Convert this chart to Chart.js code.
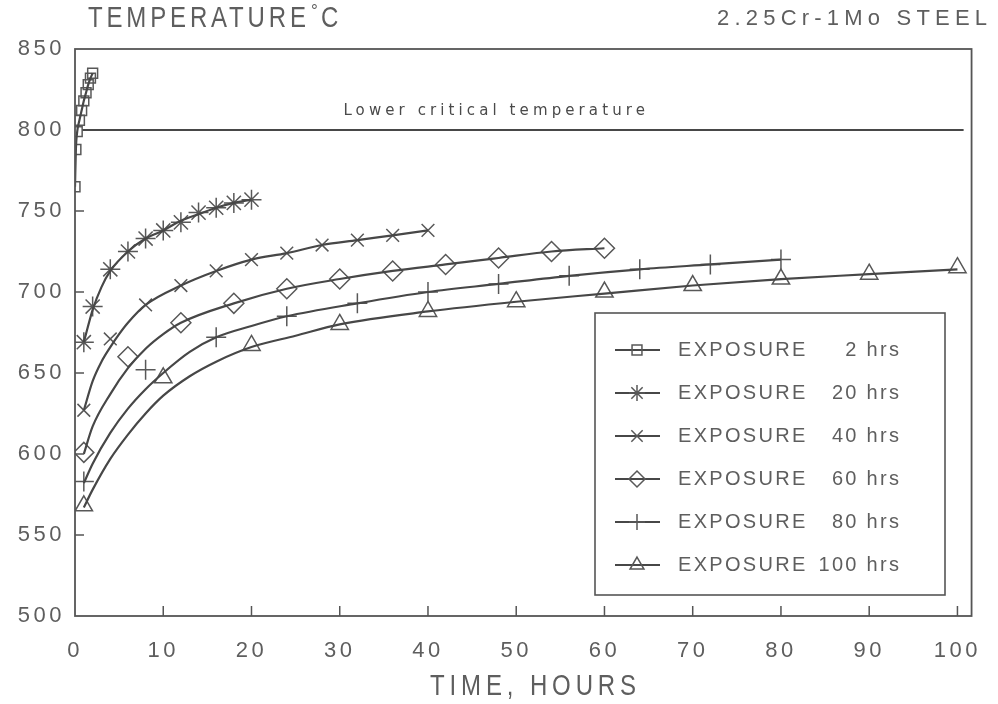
<!DOCTYPE html>
<html><head><meta charset="utf-8">
<script src="https://cdn.jsdelivr.net/npm/chart.js@4/dist/chart.umd.min.js"></script>
<style>html,body{margin:0;padding:0;background:#fff;}canvas{display:block;}</style>
</head><body>
<canvas id="c" width="998" height="704" style="width:998px;height:704px"></canvas>
<script>
const exposureHours = [2, 20, 40, 60, 80, 100];
const time2h   = [0, 0.1, 0.25, 0.5, 0.75, 1.0, 1.25, 1.5, 1.75, 2.0];
const temp2h   = [765, 788, 799, 806, 812, 818, 823, 828, 832, 835];
const time20h  = [1, 2, 4, 6, 8, 10, 12, 14, 16, 18, 20];
const temp20h  = [669, 691, 714, 725, 733, 738, 743, 749, 752, 755, 757];
const time40h  = [1, 4, 8, 12, 16, 20, 24, 28, 32, 36, 40];
const temp40h  = [627, 671, 692, 704, 713, 720, 724, 729, 732, 735, 738];
const time60h  = [1, 6, 12, 18, 24, 30, 36, 42, 48, 54, 60];
const temp60h  = [601, 660, 681, 693, 702, 708, 713, 717, 721, 725, 727];
const time80h  = [1, 8, 16, 24, 32, 40, 48, 56, 64, 72, 80];
const temp80h  = [583, 652, 672, 685, 693, 700, 705, 710, 714, 717, 720];
const time100h = [1, 10, 20, 30, 40, 50, 60, 70, 80, 90, 100];
const temp100h = [568, 647, 667, 680, 688, 694, 700, 704, 708, 711, 715];

// ---- drawn (fitted) curves ----
const curveTime2h   = [0, 0.1, 0.25, 0.5, 0.75, 1.0, 1.25, 1.5, 1.75, 2.0];
const curveTemp2h   = [765, 788, 799, 806, 812, 818, 823, 828, 832, 835];
const curveTime20h  = [1, 2, 3, 4, 6, 8, 10, 12, 14, 16, 18, 20];
const curveTemp20h  = [669, 689, 703, 713, 725, 733, 738, 744, 748, 752, 755, 757];
const curveTime40h  = [1, 2, 3, 4, 5, 6, 8, 12, 16, 20, 24, 28, 32, 36, 40];
const curveTemp40h  = [627, 645, 657, 666, 674, 681, 692, 704, 713, 720, 724, 729, 732, 735, 738];
const curveTime60h  = [1, 2, 4, 6, 8, 10, 12, 18, 24, 30, 36, 42, 48, 54, 60];
const curveTemp60h  = [600, 617, 637, 653, 665, 674, 681, 693, 702, 708, 713, 717, 721, 725, 727];
const curveTime80h  = [1, 2, 4, 6, 8, 10, 13, 16, 20, 24, 32, 40, 48, 56, 64, 72, 80];
const curveTemp80h  = [582, 594, 613, 628, 640, 650, 663, 672, 679, 685, 693, 700, 705, 710, 714, 717, 720];
const curveTime100h = [1, 2, 4, 6, 8, 10, 13, 16, 20, 25, 30, 40, 50, 60, 70, 80, 90, 100];
const curveTemp100h = [567, 578, 597, 612, 625, 636, 648, 657, 666, 673, 680, 688, 694, 699, 704, 708, 711, 714];

const lowerCriticalTemp = 800;
const lowerCriticalTime = [0.8, 100.7];
const xTickValues = [0, 10, 20, 30, 40, 50, 60, 70, 80, 90, 100];
const yTickValues = [500, 550, 600, 650, 700, 750, 800, 850];

const seriesTimes = [time2h, time20h, time40h, time60h, time80h, time100h];
const seriesTemps = [temp2h, temp20h, temp40h, temp60h, temp80h, temp100h];
const curveTimes  = [curveTime2h, curveTime20h, curveTime40h, curveTime60h, curveTime80h, curveTime100h];
const curveTemps  = [curveTemp2h, curveTemp20h, curveTemp40h, curveTemp60h, curveTemp80h, curveTemp100h];
const markerStyles = ['rect', 'star', 'crossRot', 'rectRot', 'cross', 'triangle'];
const markerRadii  = [7, 10, 9, 10, 10, 10];

const LINE = '#474747', MARK = '#585858', TEXT = '#5e5e5e';
const FONT = '"Liberation Sans", Arial, sans-serif';

const datasets = [];
exposureHours.forEach((h, i) => {
  datasets.push({
    label: 'EXPOSURE ' + h + ' hrs',
    data: curveTimes[i].map((t, j) => ({x: t, y: curveTemps[i][j]})),
    borderColor: LINE, borderWidth: 2.2,
    cubicInterpolationMode: 'monotone', pointRadius: 0, fill: false
  });
  datasets.push({
    label: 'EXPOSURE ' + h + ' hrs (points)',
    data: seriesTimes[i].map((t, j) => ({x: t, y: seriesTemps[i][j]})),
    showLine: false,
    pointStyle: markerStyles[i], pointRadius: markerRadii[i],
    pointBorderColor: MARK, pointBorderWidth: 1.5,
    pointBackgroundColor: 'rgba(0,0,0,0)'
  });
});
datasets.push({
  label: 'Lower critical temperature',
  data: lowerCriticalTime.map(t => ({x: t, y: lowerCriticalTemp})),
  borderColor: LINE, borderWidth: 2, pointRadius: 0, fill: false
});

function spacedText(ctx, txt, x, y, font, spacing, align, scaleX, color) {
  const sx = scaleX || 1;
  ctx.save();
  ctx.font = font;
  ctx.letterSpacing = spacing + 'px';
  ctx.textBaseline = 'middle';
  ctx.fillStyle = color || TEXT;
  const w = (ctx.measureText(txt).width - spacing) * sx;
  let left = x;
  if (align === 'center') left = x - w / 2;
  else if (align === 'right') left = x - w;
  ctx.translate(left, y);
  ctx.scale(sx, 1);
  ctx.textAlign = 'left';
  ctx.fillText(txt, 0, 0);
  ctx.restore();
}

function marker(ctx, style, r, x, y) {
  ctx.save();
  ctx.strokeStyle = MARK; ctx.lineWidth = 1.5; ctx.fillStyle = 'rgba(0,0,0,0)';
  if (Chart.helpers && Chart.helpers.drawPoint) {
    Chart.helpers.drawPoint(ctx, {pointStyle: style, radius: r, rotation: 0, borderWidth: 1.5}, x, y);
  }
  ctx.restore();
}

const decor = {
  id: 'decor',
  beforeDraw(chart) { chart.ctx.letterSpacing = '3.5px'; },
  afterDraw(chart) {
    const ctx = chart.ctx, a = chart.chartArea;
    const xs = chart.scales.x, ys = chart.scales.y;
    ctx.save();
    ctx.letterSpacing = '0px';
    // frame
    ctx.strokeStyle = '#555'; ctx.lineWidth = 1.8;
    ctx.strokeRect(a.left, a.top, a.right - a.left, a.bottom - a.top);
    // inner ticks
    ctx.lineWidth = 1.5;
    yTickValues.slice(1, 6).forEach(v => {
      const y = ys.getPixelForValue(v);
      ctx.beginPath(); ctx.moveTo(a.left, y); ctx.lineTo(a.left + 9, y); ctx.stroke();
    });
    xTickValues.slice(1).forEach(v => {
      const x = xs.getPixelForValue(v);
      ctx.beginPath(); ctx.moveTo(x, a.bottom); ctx.lineTo(x, a.bottom - 10); ctx.stroke();
    });
    // lower critical label
    spacedText(ctx, 'Lower critical temperature', xs.getPixelForValue(47.5), ys.getPixelForValue(811.5),
      '15px "DejaVu Sans", sans-serif', 4.1, 'center', 1, '#4a4a4a');
    // titles
    spacedText(ctx, 'TEMPERATURE', 88, 19, '30px ' + FONT, 4.8, 'left', 0.8);
    spacedText(ctx, '°', 311, 11, '17px ' + FONT, 0, 'left', 1);
    spacedText(ctx, 'C', 321, 19, '30px ' + FONT, 0, 'left', 0.8);
    spacedText(ctx, '2.25Cr-1Mo STEEL', 987, 19, '22px ' + FONT, 5.2, 'right', 1);
    spacedText(ctx, 'TIME, HOURS', 533, 687, '30px ' + FONT, 6.1, 'center', 0.8);
    // legend
    const bx = 595, by = 313, bw = 350, bh = 282;
    ctx.strokeStyle = '#555'; ctx.lineWidth = 1.6;
    ctx.strokeRect(bx, by, bw, bh);
    exposureHours.forEach((h, i) => {
      const y = 350 + i * 43;
      ctx.strokeStyle = LINE; ctx.lineWidth = 2;
      ctx.beginPath(); ctx.moveTo(615, y); ctx.lineTo(660, y); ctx.stroke();
      const r = Math.min(markerRadii[i], 8);
      marker(ctx, markerStyles[i], i === 0 ? 7 : r, 637, y);
      spacedText(ctx, 'EXPOSURE', 678, y, '20px ' + FONT, 2.3, 'left', 1);
      spacedText(ctx, h + ' hrs', 899, y, '20px ' + FONT, 2.3, 'right', 1);
    });
    ctx.restore();
  }
};

new Chart(document.getElementById('c'), {
  type: 'line',
  data: {datasets},
  options: {
    responsive: false, animation: false, devicePixelRatio: 1,
    layout: {padding: {left: 0, top: 49, right: 13, bottom: 0}},
    plugins: {legend: {display: false}, tooltip: {enabled: false}},
    scales: {
      x: {
        type: 'linear', min: 0, max: 101.6,
        afterFit: s => { s.height = 88; },
        afterBuildTicks: s => { s.ticks = xTickValues.map(v => ({value: v})); },
        grid: {display: false, drawTicks: false}, border: {display: false},
        ticks: {color: TEXT, font: {family: FONT, size: 22}, padding: 22, maxRotation: 0, autoSkip: false}
      },
      y: {
        type: 'linear', min: 500, max: 850,
        afterFit: s => { s.width = 75; },
        afterBuildTicks: s => { s.ticks = yTickValues.map(v => ({value: v})); },
        grid: {display: false, drawTicks: false}, border: {display: false},
        ticks: {color: TEXT, font: {family: FONT, size: 22}, padding: 10, autoSkip: false}
      }
    }
  },
  plugins: [decor]
});
</script>
</body></html>
